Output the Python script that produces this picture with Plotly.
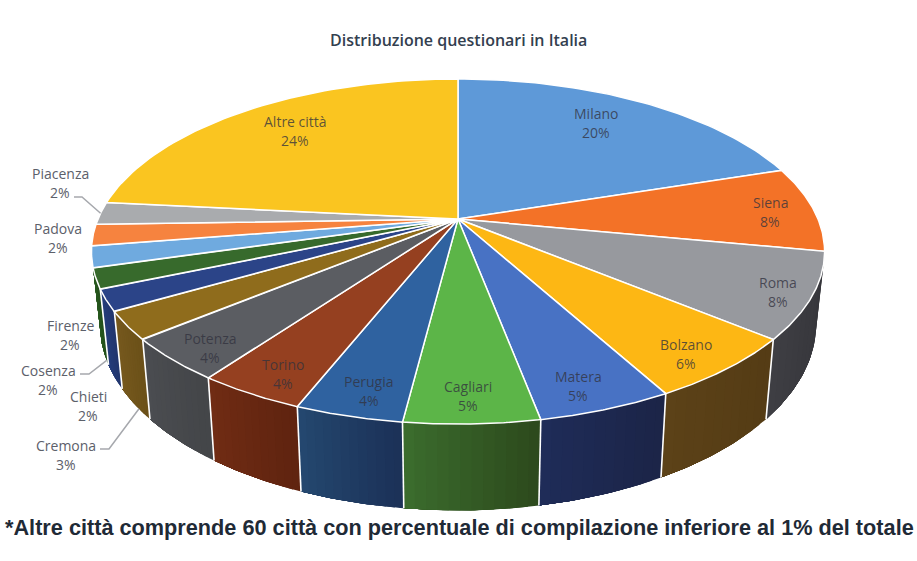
import numpy as np
import plotly.graph_objects as go

cities = ["Milano", "Siena", "Roma", "Bolzano", "Matera", "Cagliari", "Perugia", "Torino",
          "Potenza", "Cremona", "Chieti", "Cosenza", "Firenze", "Padova", "Piacenza", "Altre città"]
values = [20, 8, 8, 6, 5, 5, 4, 4, 4, 2.6, 2, 1.9, 2, 2, 2.1, 23.4]
pct_labels = ["20%", "8%", "8%", "6%", "5%", "5%", "4%", "4%", "4%", "3%", "2%", "2%", "2%", "2%", "2%", "24%"]

top_colors = ["#5e99d8", "#f37227", "#97999e", "#fdb714", "#4872c4", "#5cb548", "#2f62a0", "#954020",
              "#5b5d62", "#8f6c1c", "#2b4488", "#376a2c", "#6faadf", "#f6833f", "#a9abae", "#fac520"]
# side wall, right end and left end of each visible slice
side_colors = {
    "Roma": ("#35353a", "#3e3e43"),
    "Bolzano": ("#553c15", "#5c4218"),
    "Matera": ("#1c2548", "#1f2c58"),
    "Cagliari": ("#2d4a1d", "#3b6c2d"),
    "Perugia": ("#1c3258", "#24476f"),
    "Torino": ("#602410", "#702c14"),
    "Potenza": ("#444649", "#4b4d51"),
    "Cremona": ("#6c5119", "#76591e"),
    "Chieti": ("#22366e", "#263e7c"),
    "Cosenza": ("#24501c", "#295a20"),
}

# text centre of every two-line label, in picture pixels
label_pos = {
    "Milano": (596, 123), "Siena": (770, 212), "Roma": (778, 292), "Bolzano": (686, 354),
    "Matera": (578, 386), "Cagliari": (468, 396), "Perugia": (369, 391), "Torino": (283, 374),
    "Potenza": (210, 348), "Cremona": (66, 455), "Chieti": (88, 406), "Cosenza": (48, 380),
    "Firenze": (70, 335), "Padova": (58, 238), "Piacenza": (60, 183), "Altre città": (295, 131),
}
LINE_GAP = 19.5
# leader lines: start at the text, bend, then run to the slice (fraction along it, depth)
leaders = {
    "Piacenza": ((74, 197), (82, 197), 0.5, 0.0),
    "Cosenza": ((80, 374), (89, 374), 0.2, 1.0),
    "Cremona": ((100, 449), (109, 449), 0.35, 1.0),
}

CX, CY = 458, 219
RX, RY = 360, 166.4
TILT = 0.1886
WALL = 70
BOTTOM_SCALE = 0.977


def project(theta, z=0.0):
    # theta clockwise from 12 o'clock, z=0 top face, z=1 bottom face
    u, v = np.sin(theta), np.cos(theta)
    w = 1 + TILT * v
    x = CX + RX * (1 - (1 - BOTTOM_SCALE) * z) * u / w
    y = CY + (-RY * v + WALL * z) / w
    return x, y


def mix(c1, c2, t):
    a = [int(c1[i:i + 2], 16) for i in (1, 3, 5)]
    b = [int(c2[i:i + 2], 16) for i in (1, 3, 5)]
    return "rgb(%d,%d,%d)" % tuple(a[i] + (b[i] - a[i]) * t for i in range(3))


edges = np.cumsum([0] + values) / sum(values) * 2 * np.pi
fig = go.Figure()

# side walls first, each strip runs to the end of its slice so the next one paints over it
for i, city in enumerate(cities):
    if city not in side_colors:
        continue
    right, left = side_colors[city]
    cuts = np.linspace(edges[i], edges[i + 1], 13)
    for j in range(12):
        th = np.linspace(cuts[j], edges[i + 1], 30)
        xt, yt = project(th)
        xb, yb = project(th[::-1], 1)
        fig.add_trace(go.Scatter(x=np.r_[xt, xb, xt[0]], y=np.r_[yt, yb, yt[0]], mode="lines", fill="toself",
                                 fillcolor=mix(right, left, j / 11), line=dict(width=0),
                                 hoverinfo="skip", showlegend=False))

# white joints between the walls
visible = [i for i, c in enumerate(cities) if c in side_colors]
for i in visible[1:]:
    xt, yt = project(edges[i])
    xb, yb = project(edges[i], 1)
    fig.add_trace(go.Scatter(x=[xt, xb], y=[yt, yb], mode="lines", line=dict(color="white", width=1.6),
                             hoverinfo="skip", showlegend=False))

# top face
for i, city in enumerate(cities):
    th = np.linspace(edges[i], edges[i + 1], 60)
    x, y = project(th)
    fig.add_trace(go.Scatter(x=np.r_[CX, x, CX], y=np.r_[CY, y, CY], mode="lines", fill="toself",
                             fillcolor=top_colors[i], line=dict(color="white", width=1.5),
                             hoverinfo="skip", showlegend=False))

# leader lines
for city, (p0, p1, frac, z) in leaders.items():
    i = cities.index(city)
    xe, ye = project(edges[i] + (edges[i + 1] - edges[i]) * frac, z)
    fig.add_trace(go.Scatter(x=[p0[0], p1[0], xe], y=[p0[1], p1[1], ye], mode="lines",
                             line=dict(color="#a6a8ad", width=1.5), hoverinfo="skip", showlegend=False))

inside = {"Milano", "Siena", "Roma", "Bolzano", "Matera", "Cagliari", "Perugia", "Torino", "Potenza", "Altre città"}
for i, city in enumerate(cities):
    color = "rgba(50,50,62,0.78)" if city in inside else "#5c606a"
    px, py = label_pos[city]
    for text, yy in ((city, py - LINE_GAP / 2), (pct_labels[i], py + LINE_GAP / 2)):
        fig.add_annotation(x=px, y=yy, text=text, showarrow=False,
                           font=dict(family="Open Sans", size=14, color=color))

fig.add_annotation(x=458, y=40, text="Distribuzione questionari in Italia", showarrow=False,
                   font=dict(family="Open Sans", size=16, color="#33404f", weight=600))
fig.add_annotation(x=459, y=527, text="*Altre città comprende 60 città con percentuale di compilazione inferiore al 1% del totale",
                   showarrow=False, font=dict(family="Liberation Sans", size=21.7, color="#1f2a36", weight="bold"))

fig.update_xaxes(range=[0, 917], visible=False, fixedrange=True)
fig.update_yaxes(range=[561, 0], visible=False, fixedrange=True)
fig.update_layout(width=917, height=561, margin=dict(l=0, r=0, t=0, b=0),
                  plot_bgcolor="white", paper_bgcolor="white", showlegend=False)

fig.write_html("out.html", config={"displayModeBar": False},
               post_script="document.body.style.margin='0';")
